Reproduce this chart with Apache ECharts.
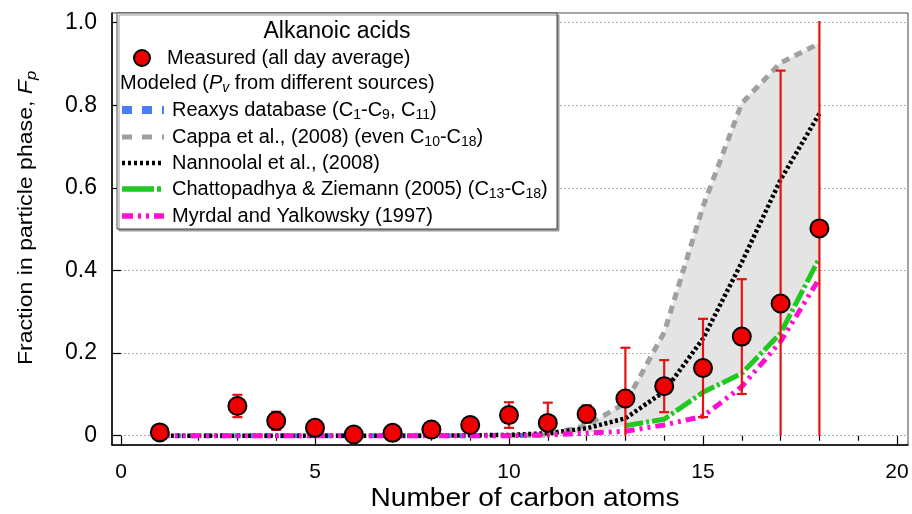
<!DOCTYPE html>
<html>
<head>
<meta charset="utf-8">
<script src="https://cdn.jsdelivr.net/npm/echarts@6/dist/echarts.min.js"></script>
<style>html,body{margin:0;padding:0;background:#fff}#c{width:912px;height:514px}</style>
</head>
<body>
<div id="c"></div>
<script>
// ---- data ----
const measuredX = [1, 3, 4, 5, 6, 7, 8, 9, 10, 11, 12, 13, 14, 15, 16, 17, 18];
const measuredY = [0.008, 0.072, 0.036, 0.019, 0.003, 0.007, 0.015, 0.026, 0.050, 0.031, 0.0525, 0.090, 0.120, 0.164, 0.240, 0.320, 0.502];
const measuredErr = [0, 0.027, 0.022, 0, 0, 0, 0, 0, 0.031, 0.049, 0.021, 0.123, 0.063, 0.119, 0.139, 0.564, 0.502];

const reaxysX = [1, 2, 3, 4, 5, 6, 7, 8, 9, 11];
const reaxysY = [0, 0, 0, 0, 0, 0, 0, 0, 0, 0.001];

const cappaX = [10, 11, 12, 13, 14, 15, 16, 17, 18];
const cappaY = [0.0, 0.002, 0.025, 0.079, 0.25, 0.555, 0.805, 0.903, 0.95];

const nannoolalX = [1, 2, 3, 4, 5, 6, 7, 8, 9, 10, 11, 12, 13, 14, 15, 16, 17, 18];
const nannoolalY = [0, 0, 0, 0, 0, 0, 0, 0, 0.001, 0.002, 0.006, 0.018, 0.042, 0.107, 0.235, 0.42, 0.62, 0.78];

const chattoX = [13, 14, 15, 16, 17, 18];
const chattoY = [0.024, 0.04, 0.105, 0.151, 0.248, 0.43];

const myrdalX = [1, 2, 3, 4, 5, 6, 7, 8, 9, 10, 11, 12, 13, 14, 15, 16, 17, 18];
const myrdalY = [0, 0, 0, 0, 0, 0, 0, 0, 0, 0, 0.002, 0.006, 0.011, 0.026, 0.047, 0.119, 0.228, 0.381];

const xTicks = [0, 5, 10, 15, 20];
const yTicks = [0, 0.2, 0.4, 0.6, 0.8, 1.0];

// ---- helpers ----
const FONT = '"Liberation Sans", Arial, Helvetica, sans-serif';
const pairs = (xs, ys) => xs.map((x, i) => [x, ys[i]]);

// shaded band: upper = Cappa, lower = Chattopadhya where available else Myrdal
const bandX = cappaX.filter(x => x >= 11);
const bandUpper = bandX.map(x => cappaY[cappaX.indexOf(x)]);
const bandLower = bandX.map(x => {
  const ci = chattoX.indexOf(x);
  if (ci >= 0) return chattoY[ci];
  return myrdalY[myrdalX.indexOf(x)];
});

const errData = measuredX.map((x, i) => [x, measuredY[i] - measuredErr[i], measuredY[i] + measuredErr[i], measuredErr[i]]);

const chart = echarts.init(document.getElementById('c'), null, {renderer: 'canvas'});

const lineSeries = (name, xs, ys, color, width, dash, z) => ({
  name, type: 'line', xAxisIndex: 0, yAxisIndex: 0,
  data: pairs(xs, ys), showSymbol: false, symbol: 'none', clip: false,
  lineStyle: {color, width, type: dash, cap: 'butt'}, z, animation: false
});

const legendRows = [
  {text: 'Reaxys database (C{sub|1}-C{sub|9}, C{sub|11})', color: '#4a7cf2', width: 8, dash: [10, 10], y: 110},
  {text: 'Cappa et al., (2008) (even C{sub|10}-C{sub|18})', color: '#a0a0a0', width: 5, dash: [10, 10], y: 137},
  {text: 'Nannoolal et al., (2008)', color: '#000000', width: 4.5, dash: [3, 3], y: 163},
  {text: 'Chattopadhya & Ziemann (2005) (C{sub|13}-C{sub|18})', color: '#22c822', width: 5.5, dash: [32, 3, 4, 3], y: 189},
  {text: 'Myrdal and Yalkowsky (1997)', color: '#ff10d0', width: 5.5, dash: [11, 5, 3, 5, 3, 5], y: 216}
];
const rich = {
  sub: {fontSize: 14, fontFamily: FONT, fill: '#000', lineHeight: 14, padding: [11, 0, 0, 0]},
  i: {fontSize: 20, fontFamily: FONT, fontStyle: 'italic', fill: '#000'},
  isub: {fontSize: 14, fontFamily: FONT, fontStyle: 'italic', fill: '#000', lineHeight: 14, padding: [11, 0, 0, 0]}
};
const richY = {
  i: {fontSize: 21, fontFamily: FONT, fontStyle: 'italic', fill: '#000'},
  isub: {fontSize: 15, fontFamily: FONT, fontStyle: 'italic', fill: '#000', lineHeight: 15, padding: [11, 0, 0, 0]}
};

const graphics = [
  {type: 'rect', shape: {x: 117, y: 13, width: 440, height: 216}, z: 100,
   style: {fill: '#fff', stroke: '#444', lineWidth: 1, shadowColor: '#999', shadowOffsetX: 2, shadowOffsetY: 2, shadowBlur: 0}},
  {type: 'text', z: 101, style: {text: 'Alkanoic acids', x: 337, y: 32, align: 'center', verticalAlign: 'middle', font: '23px ' + FONT, fill: '#000'}},
  {type: 'circle', z: 101, shape: {cx: 142, cy: 58, r: 8}, style: {fill: '#ee0000', stroke: '#000', lineWidth: 2}},
  {type: 'text', z: 101, style: {text: 'Measured (all day average)', x: 167, y: 58, verticalAlign: 'middle', font: '20px ' + FONT, fill: '#000'}},
  {type: 'text', z: 101, style: {text: 'Modeled ({i|P}{isub|v} from different sources)', rich, x: 120, y: 83, verticalAlign: 'middle', font: '20px ' + FONT, fill: '#000'}}
];
legendRows.forEach(r => {
  graphics.push({type: 'line', z: 101, shape: {x1: 122, y1: r.y, x2: 164, y2: r.y},
    style: {stroke: r.color, lineWidth: r.width, lineDash: r.dash, lineCap: 'butt'}});
  graphics.push({type: 'text', z: 101, style: {text: r.text, rich, x: 172, y: r.y, verticalAlign: 'middle', font: '20px ' + FONT, fill: '#000'}});
});
graphics.push({type: 'text', z: 101, x: 525, y: 499, scaleX: 1.08,
  style: {text: 'Number of carbon atoms', x: 0, y: 0, align: 'center', verticalAlign: 'middle', font: '26px ' + FONT, fill: '#000'}});
graphics.push({type: 'text', z: 101, rotation: Math.PI / 2, x: 26, y: 218, scaleX: 1.1,
  style: {text: 'Fraction in particle phase, {i|F}{isub|p}', rich: richY, x: 0, y: 0, align: 'center', verticalAlign: 'middle', font: '21px ' + FONT, fill: '#000'}});

const option = {
  animation: false,
  backgroundColor: '#fff',
  grid: [
    {left: 121, right: 15, top: 22.7, bottom: 78.29, containLabel: false, show: false},
    {left: 112, right: 4, top: 13, bottom: 69, show: true, borderColor: '#444', borderWidth: 1, backgroundColor: 'transparent', z: 0}
  ],
  xAxis: [
    {type: 'value', gridIndex: 0, min: xTicks[0], max: xTicks[xTicks.length - 1], interval: xTicks[1] - xTicks[0],
     offset: 9.3,
     axisLine: {show: false},
     axisTick: {show: true, inside: false, length: 10, lineStyle: {color: '#000', width: 1.2}},
     minorTick: {show: true, splitNumber: 5, length: 5, lineStyle: {color: '#000', width: 1.2}},
     axisLabel: {show: true, margin: 17, fontSize: 21, fontFamily: FONT, color: '#000'},
     splitLine: {show: false}},
    {type: 'value', gridIndex: 1, min: -0.232, max: 20.2835,
     axisLine: {show: true, onZero: false, lineStyle: {color: '#000', width: 1.5}},
     axisTick: {show: false}, axisLabel: {show: false}, splitLine: {show: false}}
  ],
  yAxis: [
    {type: 'value', gridIndex: 0, min: yTicks[0], max: yTicks[yTicks.length - 1], interval: yTicks[1] - yTicks[0],
     offset: 9,
     axisLine: {show: false},
     axisTick: {show: true, inside: false, length: 9, lineStyle: {color: '#000', width: 1.2}},
     axisLabel: {show: true, margin: 15, fontSize: 23, fontFamily: FONT, color: '#000',
       formatter: v => (v === 0 ? '0' : v.toFixed(1))},
     splitLine: {show: false}},
    {type: 'value', gridIndex: 1, min: -0.0225, max: 1.0235, splitNumber: 5,
     axisLine: {show: true, onZero: false, lineStyle: {color: '#000', width: 1.5}},
     axisTick: {show: false}, axisLabel: {show: false},
     splitLine: {show: true, lineStyle: {color: '#b0b0b0', width: 1, type: [2, 2]}}}
  ],
  graphic: graphics,
  series: [
    {type: 'custom', name: 'band', xAxisIndex: 0, yAxisIndex: 0, data: [[bandX[0], bandUpper[0]]], z: 1, clip: false,
     renderItem: (params, api) => {
       const pts = [];
       bandX.forEach((x, i) => pts.push(api.coord([x, bandUpper[i]])));
       for (let i = bandX.length - 1; i >= 0; i--) pts.push(api.coord([bandX[i], bandLower[i]]));
       return {type: 'polygon', shape: {points: pts}, style: {fill: '#e4e4e4', stroke: 'none'}};
     }},
    lineSeries('Reaxys database', reaxysX, reaxysY, '#4a7cf2', 5, [6, 9], 3),
    lineSeries('Cappa et al., (2008)', cappaX, cappaY, '#a0a0a0', 5, [8, 6], 3),
    lineSeries('Nannoolal et al., (2008)', nannoolalX, nannoolalY, '#000000', 4.5, [3, 2.5], 4),
    lineSeries('Chattopadhya & Ziemann (2005)', chattoX, chattoY, '#22c822', 5, [18, 3, 3, 3], 5),
    lineSeries('Myrdal and Yalkowsky (1997)', myrdalX, myrdalY, '#ff10d0', 5, [10, 5, 3, 5, 3, 5], 5),
    {type: 'custom', name: 'error', xAxisIndex: 0, yAxisIndex: 0, data: errData, z: 6, clip: false,
     encode: {x: 0, y: [1, 2]},
     renderItem: (params, api) => {
       const x = api.value(0), lo = api.value(1), hi = api.value(2), e = api.value(3);
       if (e <= 0) return null;
       const loC = Math.max(lo, 0), hiC = hi;
       const pLo = api.coord([x, loC]), pHi = api.coord([x, hiC]);
       const st = {stroke: '#e81010', lineWidth: 2.2};
       const children = [{type: 'line', shape: {x1: pLo[0], y1: pLo[1], x2: pHi[0], y2: pHi[1]}, style: st}];
       if (hi < 0.99) children.push({type: 'line', shape: {x1: pHi[0] - 5, y1: pHi[1], x2: pHi[0] + 5, y2: pHi[1]}, style: st});
       if (lo > 0.005) children.push({type: 'line', shape: {x1: pLo[0] - 5, y1: pLo[1], x2: pLo[0] + 5, y2: pLo[1]}, style: st});
       return {type: 'group', children};
     }},
    {type: 'scatter', name: 'Measured (all day average)', xAxisIndex: 0, yAxisIndex: 0, data: pairs(measuredX, measuredY),
     symbol: 'circle', symbolSize: 18, clip: false, z: 7,
     itemStyle: {color: '#ee0000', borderColor: '#000', borderWidth: 2, opacity: 1}}
  ]
};
chart.setOption(option);
</script>
</body>
</html>
